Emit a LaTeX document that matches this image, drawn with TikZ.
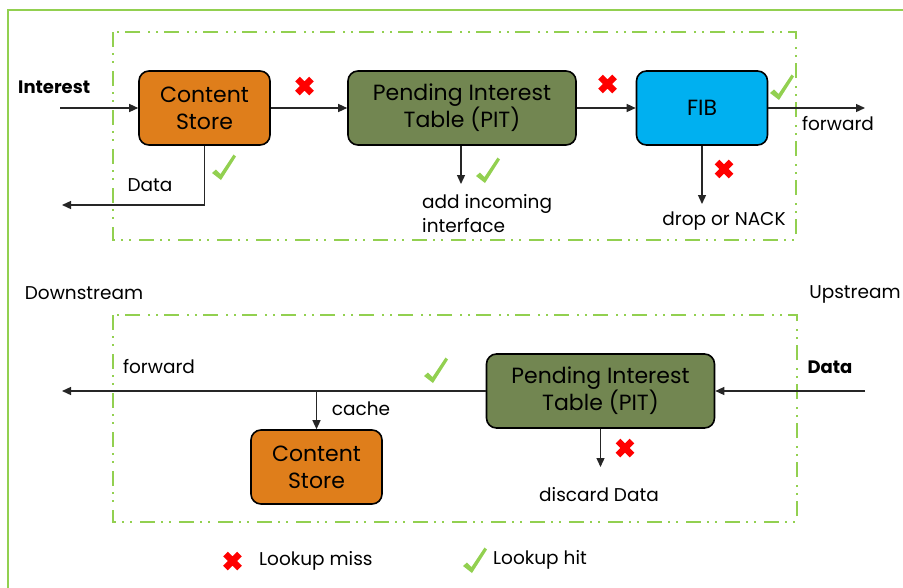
\documentclass[tikz,border=0pt]{standalone}
\usepackage{fontspec}
\setmainfont{Poppins}
\usetikzlibrary{arrows.meta}
\definecolor{lgreen}{HTML}{92D050}
\definecolor{csorange}{HTML}{DF7E1B}
\definecolor{pitgreen}{HTML}{728651}
\definecolor{fibblue}{HTML}{00B0F0}
\definecolor{xred}{HTML}{FF0000}
\tikzset{
  box/.style={draw=black, line width=1.6pt, rounded corners=10pt, minimum width=131pt, minimum height=74pt, align=center, font=\fontsize{22}{27}\selectfont, inner sep=2pt},
  conn/.style={line width=1.3pt, draw=black!85, -{Triangle[length=9pt,width=8pt]}},
  lbl/.style={font=\fontsize{18.5}{24}\selectfont, inner sep=0pt},
  blbl/.style={font=\bfseries\fontsize{18}{24}\selectfont, inner sep=0pt},
  zone/.style={draw=lgreen, line width=2pt, dash pattern=on 15pt off 6pt on 2pt off 6pt on 2pt off 8pt},
  okmark/.pic={\fill[lgreen] (-12,6) -- (-8,2.5) -- (-3.5,7) -- (9.5,-12.5) -- (12,-10.5) -- (-3,13) -- cycle;},
  nomark/.pic={\draw[xred, line width=6.5pt] (-7,-7) -- (7,7) (-7,7) -- (7,-7);}
}
\begin{document}
\begin{tikzpicture}[x=1pt,y=-1pt]
\useasboundingbox (0,0) rectangle (903,587);
\fill[white] (0,0) rectangle (903,587);
% outer frame
\draw[lgreen, line width=2.5pt] (8,600) -- (8,10) -- (910,10);
% zones
\draw[zone] (113,32) rectangle (796,240);
\draw[zone] (113,315) rectangle (797,522);

% ---- top row
\node[box, fill=csorange] (cs1) at (204.5,108) {Content\\Store};
\node[box, fill=pitgreen, minimum width=228pt] (pit1) at (462,108) {Pending Interest\\Table (PIT)};
\node[box, fill=fibblue] (fib) at (702,108) {FIB};

\node[blbl, anchor=west] (interest) at (18,87) {Interest};
\coordinate (inS) at (60,108);
\draw[conn] (inS) -- (cs1.west);
\draw[conn] (cs1.east) -- (pit1.west);
\draw[conn] (pit1.east) -- (fib.west);
\coordinate (fwdE) at (865,108);
\draw[conn] (fib.east) -- (fwdE);
\node[lbl] (fwd1) at (838,124) {forward};

\coordinate (dataE) at (62,205);
\draw[conn] (cs1.south) |- (dataE);
\node[lbl] (data1) at (150,185) {Data};

\coordinate (addE) at (461,184);
\draw[conn] (pit1.south -| addE) -- (addE);
\node[lbl, align=left, anchor=north west] (addinc) at (422,194) {add incoming\\interface};

\coordinate (dropE) at (702,204);
\draw[conn] (fib.south) -- (dropE);
\node[lbl] (drop) at (724,221) {drop or NACK};

\pic at (304.5,86) {nomark};
\pic at (607.5,84) {nomark};
\pic at (724,169) {nomark};
\pic at (224,167) {okmark};
\pic at (488,170) {okmark};
\pic at (782,87) {okmark};

% ---- labels
\node[lbl] (down) at (84,293) {Downstream};
\node[lbl] (up) at (855,294) {Upstream};

% ---- bottom row
\node[box, fill=pitgreen, minimum width=228pt] (pit2) at (600.5,391) {Pending Interest\\Table (PIT)};
\node[box, fill=csorange] (cs2) at (316.5,467) {Content\\Store};

\coordinate (dataS) at (865,391);
\draw[conn] (dataS) -- (pit2.east);
\node[blbl] (data2) at (830,367) {Data};
\coordinate (fwd2E) at (62,391);
\draw[conn] (pit2.west) -- (fwd2E);
\node[lbl] (fwd2) at (159,367) {forward};
\coordinate (cacheS) at (316.5,391);
\draw[conn] (cacheS) -- (cs2.north);
\node[lbl] (cache) at (361,409) {cache};
\coordinate (discE) at (600.5,467);
\draw[conn] (pit2.south) -- (discE);
\node[lbl] (disc) at (599,495) {discard Data};

\pic at (436,370) {okmark};
\pic at (625,448) {nomark};

% ---- legend
\pic at (232.5,561) {nomark};
\node[lbl, anchor=west] (miss) at (259,561) {Lookup miss};
\pic at (475,560) {okmark};
\node[lbl, anchor=west] (hit) at (493,560) {Lookup hit};
\end{tikzpicture}
\end{document}
